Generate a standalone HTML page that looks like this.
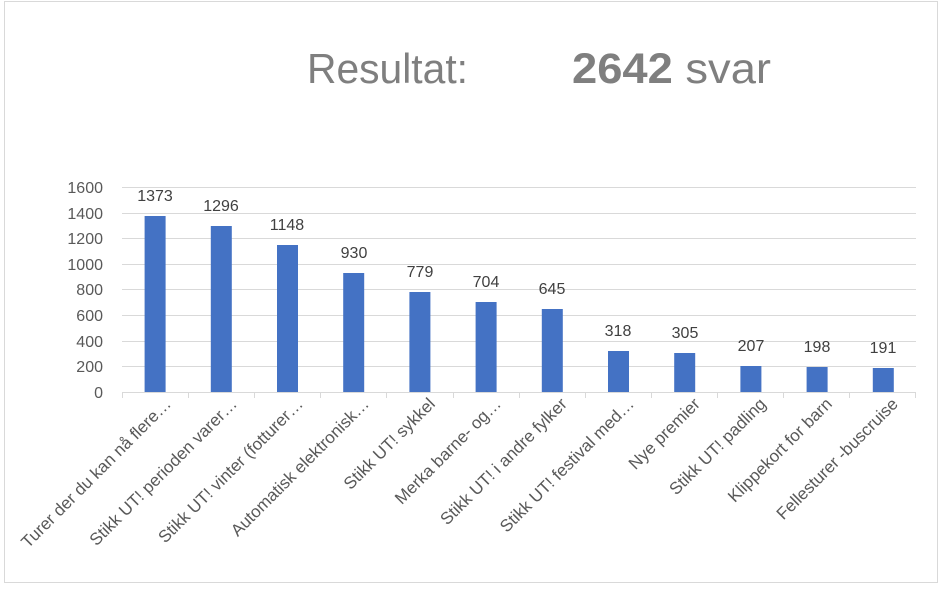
<!DOCTYPE html>
<html><head><meta charset="utf-8"><style>
body{margin:0;background:#fff;}
svg{display:block;font-family:"Liberation Sans",sans-serif;}
</style></head><body>
<svg width="943" height="589" viewBox="0 0 943 589">
<rect x="4.5" y="1.5" width="933" height="581" fill="#fff" stroke="#d9d9d9"/>
<text x="307" y="83" font-size="42" fill="#7f7f7f" textLength="161" lengthAdjust="spacingAndGlyphs">Resultat:</text>
<text x="572" y="83" font-size="43" fill="#7f7f7f" textLength="199" lengthAdjust="spacingAndGlyphs"><tspan font-weight="bold">2642</tspan> svar</text>
<g stroke="#d9d9d9" stroke-width="1">
<line x1="122" x2="916" y1="187.5" y2="187.5"/>
<line x1="122" x2="916" y1="213.5" y2="213.5"/>
<line x1="122" x2="916" y1="238.5" y2="238.5"/>
<line x1="122" x2="916" y1="264.5" y2="264.5"/>
<line x1="122" x2="916" y1="289.5" y2="289.5"/>
<line x1="122" x2="916" y1="315.5" y2="315.5"/>
<line x1="122" x2="916" y1="341.5" y2="341.5"/>
<line x1="122" x2="916" y1="366.5" y2="366.5"/>
<line x1="122" x2="916" y1="392.5" y2="392.5"/>
</g>
<g stroke="#d9d9d9">
<line x1="122.5" x2="122.5" y1="392" y2="398"/><line x1="188.5" x2="188.5" y1="392" y2="398"/><line x1="254.5" x2="254.5" y1="392" y2="398"/><line x1="320.5" x2="320.5" y1="392" y2="398"/><line x1="386.5" x2="386.5" y1="392" y2="398"/><line x1="453.5" x2="453.5" y1="392" y2="398"/><line x1="519.5" x2="519.5" y1="392" y2="398"/><line x1="585.5" x2="585.5" y1="392" y2="398"/><line x1="651.5" x2="651.5" y1="392" y2="398"/><line x1="717.5" x2="717.5" y1="392" y2="398"/><line x1="783.5" x2="783.5" y1="392" y2="398"/><line x1="849.5" x2="849.5" y1="392" y2="398"/><line x1="915.5" x2="915.5" y1="392" y2="398"/>
</g>
<g font-size="16" fill="#595959" text-anchor="end">
<text x="103" y="193">1600</text><text x="103" y="219">1400</text><text x="103" y="244">1200</text><text x="103" y="270">1000</text><text x="103" y="295">800</text><text x="103" y="321">600</text><text x="103" y="347">400</text><text x="103" y="372">200</text><text x="103" y="398">0</text>
</g>
<g fill="#4472c4">
<rect x="144.6" y="216" width="21" height="176"/>
<rect x="210.8" y="226" width="21" height="166"/>
<rect x="277" y="245" width="21" height="147"/>
<rect x="343.2" y="273" width="21" height="119"/>
<rect x="409.4" y="292" width="21" height="100"/>
<rect x="475.6" y="302" width="21" height="90"/>
<rect x="541.8" y="309" width="21" height="83"/>
<rect x="608" y="351" width="21" height="41"/>
<rect x="674.2" y="353" width="21" height="39"/>
<rect x="740.4" y="366" width="21" height="26"/>
<rect x="806.6" y="367" width="21" height="25"/>
<rect x="872.8" y="368" width="21" height="24"/>
</g>
<g font-size="16" fill="#404040" text-anchor="middle">
<text x="155" y="201">1373</text><text x="221" y="211">1296</text><text x="287" y="230">1148</text><text x="354" y="258">930</text><text x="420" y="277">779</text><text x="486" y="287">704</text><text x="552" y="294">645</text><text x="618" y="336">318</text><text x="685" y="338">305</text><text x="751" y="351">207</text><text x="817" y="352">198</text><text x="883" y="353">191</text>
</g>
<g font-size="17" fill="#595959" text-anchor="end">
<text transform="translate(172,405) rotate(-45)">Turer der du kan nå flere…</text>
<text transform="translate(238,405) rotate(-45)">Stikk UT! perioden varer…</text>
<text transform="translate(304,405) rotate(-45)">Stikk UT! vinter (fotturer…</text>
<text transform="translate(370,405) rotate(-45)">Automatisk elektronisk…</text>
<text transform="translate(436,405) rotate(-45)">Stikk UT! sykkel</text>
<text transform="translate(502,405) rotate(-45)">Merka barne- og…</text>
<text transform="translate(568,405) rotate(-45)">Stikk UT! i andre fylker</text>
<text transform="translate(635,405) rotate(-45)">Stikk UT! festival med…</text>
<text transform="translate(701,405) rotate(-45)">Nye premier</text>
<text transform="translate(767,405) rotate(-45)">Stikk UT! padling</text>
<text transform="translate(833,405) rotate(-45)">Klippekort for barn</text>
<text transform="translate(899,405) rotate(-45)">Fellesturer -buscruise</text>
</g>
</svg>
</body></html>
